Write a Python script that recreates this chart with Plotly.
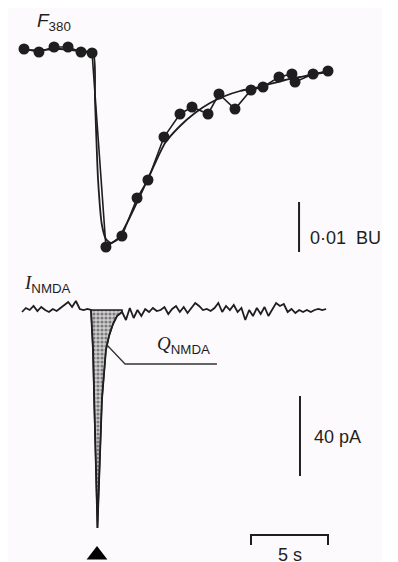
import plotly.graph_objects as go

# ---------------- data ----------------
# F380 sampled points (time s, change in F380 in BU relative to baseline)
f_dots_t = [0.13, 1.10, 2.08, 2.99, 3.83, 4.55, 5.45, 6.49, 7.47, 8.18, 9.22, 10.26,
            11.04, 12.08, 12.79, 13.83, 14.87, 15.65, 16.69, 17.53, 17.73, 18.90, 19.87]
f_dots_v = [0.0002, -0.0004, 0.0006, 0.0006, -0.0004, -0.0006, -0.0394, -0.0372, -0.0296,
            -0.0260, -0.0174, -0.0128, -0.0114, -0.0128, -0.0088, -0.0118, -0.0080,
            -0.0074, -0.0054, -0.0048, -0.0064, -0.0048, -0.0042]

# smooth F380 curve
f_fit_t = [0.13, 1.17, 2.47, 3.77, 4.61, 4.74, 4.94, 5.19, 5.45, 5.78, 6.23, 6.88, 7.66,
           8.44, 9.29, 10.26, 11.23, 12.21, 13.18, 14.16, 15.13, 16.10, 17.08, 18.05,
           19.03, 19.87]
f_fit_v = [0.0000, 0.0000, 0.0002, -0.0002, -0.0006, -0.0100, -0.0260, -0.0350, -0.0378,
           -0.0386, -0.0378, -0.0342, -0.0292, -0.0240, -0.0186, -0.0152, -0.0126,
           -0.0106, -0.0092, -0.0082, -0.0076, -0.0068, -0.0060, -0.0054, -0.0048,
           -0.0044]

# I_NMDA current trace (time s, pA)
i_t = [0.0, 0.25, 0.5, 0.75, 1.0, 1.25, 1.5, 1.75, 2.0, 2.25, 2.5, 2.75, 3.0, 3.25, 3.5,
       3.75, 4.0, 4.25,
       4.48, 4.61, 4.68, 4.87, 4.90, 5.19, 5.45, 5.65, 5.91, 6.17,
       6.5, 6.75, 7.0, 7.25, 7.5, 7.75, 8.0, 8.25, 8.5, 8.75, 9.0, 9.25, 9.5, 9.75,
       10.0, 10.25, 10.5, 10.75, 11.0, 11.25, 11.5, 11.75, 12.0, 12.25, 12.5, 12.75,
       13.0, 13.25, 13.5, 13.75, 14.0, 14.25, 14.5, 14.75, 15.0, 15.25, 15.5, 15.75,
       16.0, 16.25, 16.5, 16.75, 17.0, 17.25, 17.5, 17.75, 18.0, 18.25, 18.5, 18.75,
       19.0, 19.25, 19.5, 19.75]
i_v = [-1.0, 1.0, 0.0, 2.0, -0.5, 1.5, 0.0, -1.0, 0.5, -0.5, 1.0, 2.5, 4.0, 1.5, 4.5,
       0.5, 0.0, 0.5,
       0.0, -20.0, -45.0, -109.0, -109.0, -45.0, -20.0, -13.0, -7.0, -3.0,
       -1.0, -5.0, 1.0, -4.0, 0.0, -3.0, 0.5, -1.0, 1.0, -0.5, 0.0, 1.5, -2.0, 0.5,
       2.0, -1.0, 1.5, -1.5, 1.0, 3.5, 2.0, 0.0, 0.5, -0.5, 1.0, 3.5,
       -1.0, 2.0, 0.0, 2.5, -1.0, 1.0, -5.0, 0.0, -3.0, 1.0, -2.0, 1.5,
       -3.0, 0.0, 3.5, 2.0, 3.0, -1.0, 0.5, -1.5, 0.0, -1.0, 0.0, -1.0,
       0.0, 0.5, 0.0, 0.5]

# charge area (Q_NMDA) limits and stimulus time
q_start, q_end = 4.48, 6.5
stim_t = 4.87

# scale bars
bar_bu = 0.01
bar_pa = 40
bar_s = 5

# ---------------- figure ----------------
INK = "#1e1e1e"
fig = go.Figure()

# shaded charge
qt = [t for t in i_t if q_start <= t <= q_end]
qv = [v for t, v in zip(i_t, i_v) if q_start <= t <= q_end]
fig.add_trace(go.Scatter(
    x=qt + qt[::-1], y=qv + [0] * len(qt), yaxis="y2", mode="lines",
    fill="toself", fillcolor="#a8a8a8",
    fillpattern=dict(shape=".", fgcolor="#2a2a2a", bgcolor="#cfcfcf", size=4, solidity=0.5),
    line=dict(color=INK, width=1.4), hoverinfo="skip", showlegend=False))

fig.add_trace(go.Scatter(x=i_t, y=i_v, yaxis="y2", mode="lines",
                         line=dict(color=INK, width=1.8), showlegend=False))

fig.add_trace(go.Scatter(x=f_fit_t, y=f_fit_v, mode="lines",
                         line=dict(color=INK, width=1.8, shape="spline", smoothing=0.6),
                         showlegend=False))
fig.add_trace(go.Scatter(x=f_dots_t, y=f_dots_v, mode="lines+markers",
                         line=dict(color=INK, width=1.6),
                         marker=dict(size=11, color=INK), showlegend=False))

# stimulus marker
fig.add_trace(go.Scatter(x=[stim_t], y=[-122.5], yaxis="y2", mode="markers",
                         marker=dict(symbol="triangle-up", size=18, color="#000"),
                         showlegend=False))

# scale bar geometry (style positions)
bu_x, bu_top = 17.99, -0.0304
pa_x, pa_top = 18.05, -43
s_x0, s_y, s_tick = 14.87, -112.5, 5

shapes = [
    dict(type="rect", xref="paper", yref="paper", x0=0.959, x1=1.0, y0=0, y1=1,
         fillcolor="#ffffff", line=dict(width=0), layer="below"),
    dict(type="line", xref="x", yref="y", x0=bu_x, x1=bu_x, y0=bu_top, y1=bu_top - bar_bu,
         line=dict(color=INK, width=2)),
    dict(type="line", xref="x", yref="y2", x0=pa_x, x1=pa_x, y0=pa_top, y1=pa_top - bar_pa,
         line=dict(color=INK, width=2)),
    dict(type="path", xref="x", yref="y2",
         path=f"M {s_x0},{s_y - s_tick} L {s_x0},{s_y} L {s_x0 + bar_s},{s_y} L {s_x0 + bar_s},{s_y - s_tick}",
         line=dict(color=INK, width=2)),
    dict(type="path", xref="x", yref="y2",
         path="M 5.52,-17.5 L 6.69,-27 L 12.66,-27", line=dict(color="#333", width=1.3)),
]

SANS = "Liberation Sans, Arial, sans-serif"
SERIF = "Liberation Serif, Times New Roman, serif"
ann = [
    dict(x=0.84, y=0.0057, yref="y", text="<i>F</i><sub>380</sub>",
         font=dict(family=SANS, size=19, color=INK), xanchor="left", yanchor="middle"),
    dict(x=0.0, y=13, yref="y2", text="<i>I</i><sub><span style='font-family:Liberation Sans'>NMDA</span></sub>",
         font=dict(family=SERIF, size=19, color=INK), xanchor="left", yanchor="middle"),
    dict(x=8.64, y=-17.5, yref="y2", text="<i>Q</i><sub><span style='font-family:Liberation Sans'>NMDA</span></sub>",
         font=dict(family=SERIF, size=19, color=INK), xanchor="left", yanchor="middle"),
    dict(x=18.57, y=-0.0376, yref="y", text="0·01  BU",
         font=dict(family=SANS, size=18, color=INK), xanchor="left", yanchor="middle"),
    dict(x=18.83, y=-63.5, yref="y2", text="40 pA",
         font=dict(family=SANS, size=18, color=INK), xanchor="left", yanchor="middle"),
    dict(x=17.40, y=-122.5, yref="y2", text="5 s",
         font=dict(family=SANS, size=18, color=INK), xanchor="center", yanchor="middle"),
]
for a in ann:
    a.update(xref="x", showarrow=False)

# the page body has an 8 px margin, so the figure covers reference pixels 8..398 x 8..562
fig.update_layout(
    width=390, height=554, margin=dict(l=0, r=0, t=0, b=0),
    paper_bgcolor="#fcfafc", plot_bgcolor="rgba(0,0,0,0)",
    xaxis=dict(range=[-0.909, 24.4156], visible=False, fixedrange=True),
    yaxis=dict(range=[-0.1024, 0.0084], visible=False, fixedrange=True),
    yaxis2=dict(range=[-126, 151], visible=False, overlaying="y", fixedrange=True),
    shapes=shapes, annotations=ann, showlegend=False,
)

fig.write_html("out.html")
